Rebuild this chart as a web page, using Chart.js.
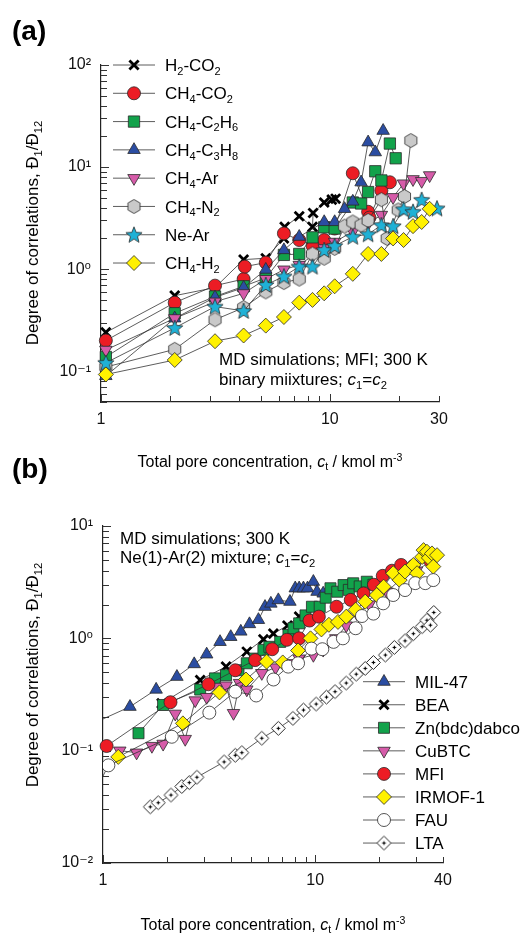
<!DOCTYPE html>
<html><head><meta charset="utf-8">
<script src="https://cdn.jsdelivr.net/npm/chart.js@4.4.1/dist/chart.umd.min.js"></script>
<style>
html,body{margin:0;padding:0;background:#fff;}
#wrap{position:relative;width:527px;height:935px;overflow:hidden;font-family:"Liberation Sans",Arial,sans-serif;color:#000;background:#fff;}
canvas{position:absolute;left:0;}
.t{position:absolute;white-space:nowrap;line-height:20px;font-size:17px;}
.c{transform:translate(-50%,-50%);}
.rot{transform:translate(-50%,-50%) rotate(-90deg);}
sub,sup{font-size:0.66em;line-height:0;}
sub{vertical-align:-0.32em;} sup{vertical-align:0.6em;}
.pl{font-size:28px;font-weight:bold;line-height:34px;}
</style></head>
<body><div id="wrap">
<canvas id="ca" width="527" height="470" style="top:0"></canvas>
<canvas id="cb" width="527" height="465" style="top:470px"></canvas>
<div class="t pl" style="left:12px;top:14px;">(a)</div>
<div class="t pl" style="left:12px;top:452px;">(b)</div>
<div class="t rot" style="left:33px;top:233px;">Degree of correlations, Đ<sub>1</sub>/Đ<sub>12</sub></div>
<div class="t rot" style="left:33px;top:675px;">Degree of correlations, Đ<sub>1</sub>/Đ<sub>12</sub></div>
<div class="t c" style="left:270px;top:462px;font-size:16px;">Total pore concentration, <i>c</i><sub>t</sub> / kmol m<sup>-3</sup></div>
<div class="t c" style="left:273px;top:925px;font-size:16px;">Total pore concentration, <i>c</i><sub>t</sub> / kmol m<sup>-3</sup></div>
<div class="t" style="left:219px;top:350px;">MD simulations; MFI; 300 K</div>
<div class="t" style="left:219px;top:370px;">binary miixtures; <i>c</i><sub>1</sub>=<i>c</i><sub>2</sub></div>
<div class="t" style="left:120px;top:529px;">MD simulations; 300 K</div>
<div class="t" style="left:120px;top:548px;">Ne(1)-Ar(2) mixture; <i>c</i><sub>1</sub>=<i>c</i><sub>2</sub></div>
</div>
<script>
// ---------------- Panel (a) data: MFI, binary mixtures ----------------
const labelsA = ['H_2-CO_2','CH_4-CO_2','CH_4-C_2H_6','CH_4-C_3H_8','CH_4-Ar','CH_4-N_2','Ne-Ar','CH_4-H_2'];
const xA_H2CO2 = [1.05,2.1,3.15,4.2,5.25,6.3,6.35,7.35,8.4,8.45,9.45,10.2,10.6];
const yA_H2CO2 = [0.24,0.55,0.66,1.24,1.28,2.0,2.6,3.3,2.6,3.55,4.5,4.8,4.9];
const xA_CH4CO2 = [1.05,2.1,3.15,4.2,4.25,5.25,6.3,7.35,8.4,9.45,10.5,12.6,14.7,14.9,16.8,18.3];
const yA_CH4CO2 = [0.2,0.47,0.69,0.8,1.06,1.16,2.24,1.93,1.7,1.93,2.5,8.7,3.65,3.2,5.9,7.1];
const xA_C2H6 = [1.05,2.1,3.15,4.2,5.25,6.3,7.35,8.4,9.45,10.5,12.6,13.7,14.7,15.8,16.8,18.3,19.4];
const yA_C2H6 = [0.138,0.37,0.54,0.68,0.82,1.38,1.41,2.05,2.57,2.5,4.5,4.4,5.7,9.1,7.4,17,12.2];
const xA_C3H8 = [1.05,2.1,3.15,4.2,5.25,6.3,7.35,9.45,10.5,11.6,12.6,13.7,14.7,15.8,17.1];
const yA_C3H8 = [0.09,0.33,0.53,0.66,0.99,1.54,2.08,2.9,2.9,3.9,4.6,7.1,17.5,14,22.7];
const xA_CH4Ar = [1.05,2.1,3.15,4.2,5.25,6.3,7.35,8.4,9.45,10.5,12.6,14.7,16.8,18.9,21,23.1,25.2,27.3];
const yA_CH4Ar = [0.162,0.33,0.48,0.58,0.8,0.99,1.1,1.35,1.6,1.85,2.33,2.8,3.4,5.07,6.9,7.6,7.3,8.3];
const xA_CH4N2 = [1.05,2.1,3.15,4.2,5.25,6.3,7.35,8.4,9.45,10.5,11.6,12.6,13.7,14.7,16.8,17.8,19.9,21.2,22.6];
const yA_CH4N2 = [0.11,0.164,0.32,0.42,0.6,0.74,0.8,1.41,1.28,1.6,2.64,2.9,2.7,3.0,4.8,2.0,3.8,5.15,18.2];
const xA_NeAr = [1.05,2.1,3.15,4.2,5.25,6.3,7.35,8.4,9.45,10.5,12.6,14.7,16.8,18.9,21,23.1,25.2,29.4];
const yA_NeAr = [0.121,0.266,0.43,0.39,0.7,0.85,1.06,1.06,1.54,1.69,2.08,2.2,2.7,2.64,3.86,3.65,4.78,3.94];
const xA_CH4H2 = [1.05,2.1,3.15,4.2,5.25,6.3,7.35,8.4,9.45,10.5,12.6,14.7,16.8,18.9,21,23.1,25.2,27.3];
const yA_CH4H2 = [0.093,0.129,0.197,0.224,0.28,0.34,0.47,0.5,0.58,0.68,0.9,1.41,1.41,2.0,1.93,2.64,2.9,3.9];
const xTickValsA = [1,10,30], xTickTextA = ['1','10','30'];
const yTickValsA = [0.1,1,10,100], yTickTextA = ['10⁻¹','10⁰','10¹','10²'];

// ---------------- Panel (b) data: Ne(1)-Ar(2), various hosts ----------------
const labelsB = ['MIL-47','BEA','Zn(bdc)dabco','CuBTC','MFI','IRMOF-1','FAU','LTA'];
const xB_MIL47 = [0.67,1.34,1.78,2.23,2.69,3.08,3.56,4.0,4.46,4.9,5.4,5.8,6.18,6.7,7.6,8.05,8.4,8.8,9.2,9.8,10.2,10.9];
const yB_MIL47 = [0.136,0.246,0.35,0.455,0.59,0.72,0.93,1.03,1.15,1.34,1.46,1.91,2.04,2.19,2.12,2.79,2.79,2.79,2.79,3.19,2.6,2.51];
const xB_BEA = [1.89,2.87,3.8,4.76,5.7,6.35,7.4,8.4];
const yB_BEA = [0.264,0.425,0.56,0.76,0.98,1.1,1.3,1.56];
const xB_Zn = [1.47,1.92,2.87,3.37,3.8,4.35,4.76,5.21,5.7,6.08,6.84,7.48,7.9,8.4,9.0,9.65,10.5,11.2,11.8,12.7,13.6,14.4,15.1,16.2,17.5,18.8];
const yB_Zn = [0.143,0.255,0.35,0.44,0.47,0.52,0.6,0.66,0.79,0.84,0.93,1.07,1.23,1.36,1.6,1.91,1.91,2.3,2.79,2.6,2.98,2.7,3.09,2.9,3.19,3.0];
const xB_CuBTC = [1.2,1.44,1.7,1.92,2.19,2.44,2.72,3.08,3.44,3.8,4.12,4.4,4.76,5.6,6.5,7.4,8.4,9.8,10.9,12.5,14,15.7,18,21.8,25,30,34.7];
const yB_CuBTC = [0.1,0.096,0.11,0.115,0.213,0.127,0.28,0.3,0.37,0.38,0.216,0.4,0.35,0.49,0.55,0.6,0.66,0.71,0.79,1.0,1.3,1.67,2.0,2.6,3.3,4.0,4.8];
const xB_MFI = [1.04,2.08,3.14,4.2,5.21,6.27,7.35,8.4,9.4,10.4,12.6,14.7,16.9,18.9,20.8,23,25.4,29,34.8];
const yB_MFI = [0.11,0.27,0.39,0.52,0.64,0.8,0.97,1.0,1.44,1.56,1.91,2.2,2.51,3.0,3.6,4.0,4.5,4.4,4.9];
const xB_IRMOF = [1.18,2.38,3.54,4.72,5.9,7.03,8.3,9.5,10.7,11.6,12.8,14,15.5,17.2,19.5,21,23.3,25,26.5,29,30.2,31.9,32.4,33.6,34.3,35.5,36,37.5];
const yB_IRMOF = [0.088,0.175,0.33,0.43,0.62,0.61,0.78,1.0,1.2,1.32,1.4,1.56,1.8,2.12,2.43,2.88,3.8,3.3,3.93,4.5,3.8,5.3,6.1,5.9,5.2,5.7,4.35,5.5];
const xB_FAU = [0.9,1.06,2.11,3.17,4.2,5.27,6.36,7.46,8.3,9.6,10.8,12.2,13.5,15.5,16.6,18.8,20.9,23.3,26.5,29.6,33,36];
const yB_FAU = [0.04,0.074,0.133,0.218,0.335,0.31,0.43,0.56,0.6,0.81,0.8,0.93,1.0,1.23,1.58,1.66,2.05,2.43,2.69,3.1,3.1,3.3];
const xB_LTA = [1.67,1.82,2.09,2.35,2.55,2.77,3.72,4.2,4.51,5.6,6.7,7.85,8.8,10.1,11.3,12.4,14,15.6,17.2,18.8,21.4,23.6,26.5,29,31.9,33.6,34.9,36.2];
const yB_LTA = [0.0316,0.0344,0.0403,0.048,0.052,0.058,0.0794,0.091,0.096,0.129,0.158,0.194,0.23,0.26,0.3,0.335,0.4,0.48,0.54,0.61,0.71,0.83,0.95,1.1,1.27,1.45,1.31,1.7];
const xTickValsB = [1,10,40], xTickTextB = ['1','10','40'];
const yTickValsB = [0.01,0.1,1,10], yTickTextB = ['10⁻²','10⁻¹','10⁰','10¹'];

// ---------------- styles ----------------
const FAM = '"Liberation Sans", Arial, "DejaVu Sans", sans-serif';
Chart.defaults.font.family = FAM;
const RED='#EC1C24', GREEN='#12A24B', BLUE='#2B4DA2', PINK='#D65BA9', GRAY='#C9C9C9', CYAN='#1FB1D6', YELLOW='#FFF100', WHITE='#FFFFFF', EDGE='#2a2a2a';

function mkCanvas(s){const c=document.createElement('canvas');c.width=s;c.height=s;return c;}
function hexImg(r, fill){const s=Math.ceil(2*r+3);const c=mkCanvas(s);const g=c.getContext('2d');g.translate(s/2,s/2);g.beginPath();
  for(let k=0;k<6;k++){const a=-Math.PI/2+k*Math.PI/3;const px=r*Math.cos(a),py=r*Math.sin(a);k?g.lineTo(px,py):g.moveTo(px,py);}
  g.closePath();g.fillStyle=fill;g.fill();g.lineWidth=0.8;g.strokeStyle=EDGE;g.stroke();return c;}
function starImg(R, r, fill){const s=Math.ceil(2*R+3);const c=mkCanvas(s);const g=c.getContext('2d');g.translate(s/2,s/2+0.6);g.beginPath();
  for(let k=0;k<10;k++){const a=-Math.PI/2+k*Math.PI/5;const rr=k%2?r:R;const px=rr*Math.cos(a),py=rr*Math.sin(a);k?g.lineTo(px,py):g.moveTo(px,py);}
  g.closePath();g.fillStyle=fill;g.fill();g.lineWidth=0.8;g.strokeStyle=EDGE;g.stroke();return c;}
function ltaImg(r){const s=Math.ceil(2*r+3);const c=mkCanvas(s);const g=c.getContext('2d');g.translate(s/2,s/2);g.beginPath();
  g.moveTo(0,-r);g.lineTo(r,0);g.lineTo(0,r);g.lineTo(-r,0);g.closePath();g.fillStyle=WHITE;g.fill();g.lineWidth=1;g.strokeStyle=EDGE;g.stroke();
  g.beginPath();g.moveTo(-1.8,0);g.lineTo(1.8,0);g.moveTo(0,-1.8);g.lineTo(0,1.8);g.lineWidth=1.2;g.strokeStyle='#000';g.stroke();return c;}

function pts(xs,ys){return xs.map((x,i)=>({x:x,y:ys[i]}));}
function ds(label,xs,ys,style,fill,radius,extra){
  return Object.assign({label:label,data:pts(xs,ys),showLine:true,borderColor:'#333',borderWidth:0.8,
    pointStyle:style,pointRadius:radius,pointHoverRadius:radius,pointBackgroundColor:fill,pointBorderColor:EDGE,pointBorderWidth:0.8,
    pointRotation:0,clip:{left:4,top:10,right:10,bottom:10}},extra||{});
}
const CLIP0 = {left:0,top:10,right:10,bottom:10};

const dsA = [
  ds(labelsA[0],xA_H2CO2,yA_H2CO2,'crossRot','#000',6.5,{pointBorderColor:'#000',pointBorderWidth:2.8}),
  ds(labelsA[1],xA_CH4CO2,yA_CH4CO2,'circle',RED,6.5),
  ds(labelsA[2],xA_C2H6,yA_C2H6,'rect',GREEN,8),
  ds(labelsA[3],xA_C3H8,yA_C3H8,'triangle',BLUE,7.2),
  ds(labelsA[4],xA_CH4Ar,yA_CH4Ar,'triangle',PINK,7.2,{pointRotation:180}),
  ds(labelsA[5],xA_CH4N2,yA_CH4N2,hexImg(7,GRAY),GRAY,7),
  ds(labelsA[6],xA_NeAr,yA_NeAr,starImg(8.5,3.7,CYAN),CYAN,8),
  ds(labelsA[7],xA_CH4H2,yA_CH4H2,'rectRot',YELLOW,7.5),
];
const dsB = [
  ds(labelsB[0],xB_MIL47,yB_MIL47,'triangle',BLUE,7.2,{clip:CLIP0}),
  ds(labelsB[1],xB_BEA,yB_BEA,'crossRot','#000',6.5,{pointBorderColor:'#000',pointBorderWidth:2.8}),
  ds(labelsB[2],xB_Zn,yB_Zn,'rect',GREEN,7.8),
  ds(labelsB[3],xB_CuBTC,yB_CuBTC,'triangle',PINK,7.2,{pointRotation:180}),
  ds(labelsB[4],xB_MFI,yB_MFI,'circle',RED,6.5),
  ds(labelsB[5],xB_IRMOF,yB_IRMOF,'rectRot',YELLOW,7.5),
  ds(labelsB[6],xB_FAU,yB_FAU,'circle',WHITE,6.5,{clip:CLIP0}),
  ds(labelsB[7],xB_LTA,yB_LTA,ltaImg(7),WHITE,7),
];
[dsA,dsB].forEach(arr=>arr.forEach((d,i)=>{d.order=arr.length-1-i;}));

// ---------------- helpers / plugins ----------------
function mkTicks(min,max){
  const out=[];const e0=Math.floor(Math.log10(min)+1e-9),e1=Math.ceil(Math.log10(max)-1e-9);
  for(let e=e0;e<=e1;e++)for(let m=1;m<=9;m++){const v=parseFloat((m*Math.pow(10,e)).toPrecision(6));
    if(v>=min*(1-1e-9)&&v<=max*(1+1e-9))out.push({value:v,major:m===1});}
  return out;
}
function labeler(vals,texts){return function(v){const i=vals.findIndex(t=>Math.abs(Math.log10(t)-Math.log10(v))<1e-6);return i>=0?texts[i]:'';};}

function drawRich(ctx,s,x,y,size){
  ctx.textBaseline='alphabetic';ctx.textAlign='left';ctx.fillStyle='#000';
  const base=y+size*0.36;let i=0,cx=x;
  while(i<s.length){
    if(s[i]==='_'){const ch=s[i+1];ctx.font=Math.round(size*0.66)+'px '+FAM;ctx.fillText(ch,cx,base+size*0.22);cx+=ctx.measureText(ch).width;i+=2;}
    else{let j=i;while(j<s.length&&s[j]!=='_')j++;const seg=s.slice(i,j);ctx.font=size+'px '+FAM;ctx.fillText(seg,cx,base);cx+=ctx.measureText(seg).width;i=j;}
  }
}
const inlineLegend={id:'inlineLegend',afterDatasetsDraw(chart,args,o){
  const ctx=chart.ctx;
  chart.data.datasets.forEach((d,i)=>{
    const y=o.y0+i*o.dy;
    ctx.save();
    ctx.strokeStyle=d.borderColor;ctx.lineWidth=d.borderWidth;
    ctx.beginPath();ctx.moveTo(o.x0,y);ctx.lineTo(o.x1,y);ctx.stroke();
    ctx.fillStyle=d.pointBackgroundColor;ctx.strokeStyle=d.pointBorderColor;ctx.lineWidth=d.pointBorderWidth;
    Chart.helpers.drawPoint(ctx,{pointStyle:d.pointStyle,rotation:d.pointRotation||0,radius:d.pointRadius,borderWidth:d.pointBorderWidth},o.mx,y);
    drawRich(ctx,d.label,o.tx,y,o.font);
    ctx.restore();
  });
}};
const inTicks={id:'inTicks',beforeDatasetsDraw(chart){
  const ctx=chart.ctx,a=chart.chartArea,xs=chart.scales.x,ys=chart.scales.y;
  ctx.save();ctx.strokeStyle='#333';ctx.lineWidth=1;ctx.beginPath();
  xs.ticks.forEach(t=>{const p=Math.round(xs.getPixelForValue(t.value))+0.5;const l=t.major?8:6;ctx.moveTo(p,a.bottom);ctx.lineTo(p,a.bottom-l);});
  ys.ticks.forEach(t=>{const p=Math.round(ys.getPixelForValue(t.value))+0.5;const l=t.major?8:6;ctx.moveTo(a.left,p);ctx.lineTo(a.left+l,p);});
  ctx.stroke();ctx.restore();
}};

function axis(pos,min,max,vals,texts,size){
  return {type:'logarithmic',position:pos,min:min,max:max,
    afterBuildTicks:s=>{s.ticks=mkTicks(s.min,s.max);},
    afterFit:s=>{if(pos==='left')s.width=size;else s.height=size;},
    grid:{display:false,drawTicks:false},
    border:{display:true,color:'#222',width:1.2},
    ticks:{autoSkip:false,maxRotation:0,minRotation:0,padding:pos==='left'?10:8,color:'#111',font:{size:16},callback:labeler(vals,texts)}};
}
function makeChart(id,datasets,xr,yr,xv,xt,yv,yt,yW,xH,pad,leg){
  return new Chart(document.getElementById(id),{
    type:'scatter',
    data:{datasets:datasets},
    plugins:[inTicks,inlineLegend],
    options:{responsive:false,animation:false,events:[],
      layout:{padding:pad},
      plugins:{legend:{display:false},tooltip:{enabled:false},inlineLegend:leg},
      scales:{x:axis('bottom',xr[0],xr[1],xv,xt,xH),y:axis('left',yr[0],yr[1],yv,yt,yW)}}
  });
}
makeChart('ca',dsA,[1,30],[0.05,100],xTickValsA,xTickTextA,yTickValsA,yTickTextA,101,68,
  {left:0,top:65,right:88,bottom:0},{x0:113,x1:155,mx:134,tx:165,y0:65,dy:28.29,font:17});
makeChart('cb',dsB,[1,40],[0.01,10],xTickValsB,xTickTextB,yTickValsB,yTickTextB,103,72,
  {left:0,top:56,right:84,bottom:0},{x0:363,x1:405,mx:384,tx:415,y0:211.7,dy:23.05,font:17});
</script>
</body></html>
